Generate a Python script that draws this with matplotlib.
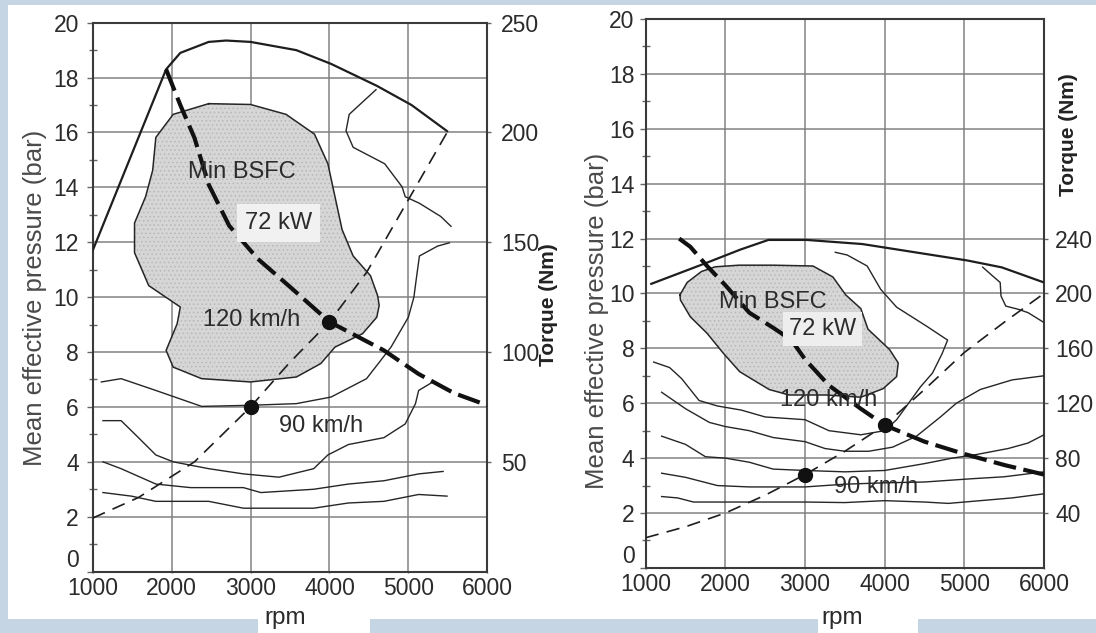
import matplotlib
matplotlib.use('Agg')
import matplotlib.pyplot as plt
from matplotlib.patches import Rectangle

plt.rcParams['font.family'] = ['Liberation Sans', 'DejaVu Sans']
plt.rcParams['hatch.linewidth'] = 0.6

# ---------------- data (rpm / mean effective pressure in bar) ----------------
rpm_ticks = [1000, 2000, 3000, 4000, 5000, 6000]
mep_ticks = [0, 2, 4, 6, 8, 10, 12, 14, 16, 18, 20]
mep_minor = [1, 3, 5, 7, 9, 11, 13, 15, 17, 19]
torque_ticks_l = [50, 100, 150, 200, 250]
torque_ticks_r = [40, 80, 120, 160, 200, 240]

# Left chart
full_l_rpm = [1000, 1930, 2110, 2470, 2690, 3000, 3580, 4020, 4600, 5040, 5490]
full_l_mep = [11.7, 18.3, 18.9, 19.3, 19.35, 19.3, 19.0, 18.5, 17.7, 17.0, 16.05]
power_l_rpm = [1930, 2110, 2290, 2470, 2730, 3090, 3490, 4000, 4690, 5130, 5580, 6000]
power_l_mep = [18.3, 17.0, 15.8, 14.1, 12.6, 11.4, 10.4, 9.1, 8.06, 7.2, 6.5, 6.06]
road_l_rpm = [1000, 1580, 2290, 3000, 3490, 4000, 4470, 5000, 5490]
road_l_mep = [1.95, 2.7, 4.0, 6.0, 7.6, 9.1, 10.9, 13.55, 16.0]
bsfc_l_rpm = [2470, 3000, 3450, 3810, 3980, 4070, 4160, 4300, 4520, 4610, 4630, 4600,
              4420, 4070, 3890, 3580, 3000, 2380, 2020, 1930, 2070, 2110, 1710, 1530,
              1530, 1670, 1760, 1800, 2020]
bsfc_l_mep = [17.05, 17.02, 16.66, 15.94, 14.86, 13.66, 12.46, 11.5, 10.78, 10.06, 9.7, 9.27,
              8.67, 8.18, 7.58, 7.09, 6.91, 7.03, 7.45, 8.06, 9.03, 9.64, 10.42, 11.62,
              12.7, 13.66, 14.62, 15.82, 16.66]
c1_l_rpm = [1110, 1360, 1800, 2380, 3000, 3580, 4020, 4470, 4780, 5000, 5070, 5100, 5140, 5370, 5520]
c1_l_mep = [6.91, 7.03, 6.6, 6.02, 6.06, 6.12, 6.36, 7.03, 8.18, 9.27, 10.0, 10.66, 11.5, 11.86, 11.98]
c2_l_rpm = [4590, 4250, 4210, 4300, 4700, 4920, 4960, 5140, 5410, 5540]
c2_l_mep = [17.56, 16.66, 16.06, 15.46, 14.86, 14.02, 13.66, 13.42, 12.94, 12.58]
c3_l_rpm = [1130, 1360, 1580, 1800, 2020, 2470, 2910, 3360, 3800, 3980, 4240, 4690, 4960, 5090, 5130, 5310]
c3_l_mep = [5.5, 5.5, 4.88, 4.25, 4.0, 3.75, 3.56, 3.44, 3.75, 4.25, 4.63, 4.88, 5.38, 6.12, 6.6, 6.91]
c4_l_rpm = [1130, 1360, 1800, 2240, 2910, 3130, 3800, 4240, 4690, 5130, 5440]
c4_l_mep = [4.0, 3.75, 3.19, 3.06, 3.06, 2.88, 3.0, 3.19, 3.31, 3.56, 3.65]
c5_l_rpm = [1130, 1490, 1800, 2470, 2910, 3800, 4240, 4690, 5130, 5490]
c5_l_mep = [2.88, 2.75, 2.56, 2.56, 2.31, 2.31, 2.5, 2.56, 2.81, 2.75]
pts_l_rpm = [3000, 4000]
pts_l_mep = [6.0, 9.1]

# Right chart
full_r_rpm = [1070, 1750, 2190, 2540, 3020, 3720, 4160, 5040, 5470, 6000]
full_r_mep = [10.35, 11.1, 11.6, 11.95, 11.95, 11.8, 11.6, 11.2, 10.95, 10.4]
power_r_rpm = [1420, 1560, 1770, 2000, 2300, 2600, 2830, 3000, 3300, 3700, 4000, 4500, 5000, 5500, 6000]
power_r_mep = [12.0, 11.7, 11.0, 10.3, 9.3, 8.75, 8.3, 7.6, 6.65, 5.8, 5.2, 4.6, 4.15, 3.75, 3.4]
road_r_rpm = [1000, 1500, 2000, 2500, 3000, 3500, 4000, 4500, 5000, 5500, 6000]
road_r_mep = [1.1, 1.5, 2.0, 2.65, 3.4, 4.25, 5.2, 6.5, 7.85, 8.95, 10.0]
bsfc_r_rpm = [1430, 1520, 1700, 1870, 2170, 2600, 3100, 3350, 3510, 3700, 3790, 4060, 4170,
              4150, 3980, 3700, 3260, 2800, 2550, 2350, 2180, 1975, 1770, 1560, 1436]
bsfc_r_mep = [9.95, 10.4, 10.8, 10.97, 11.03, 11.03, 11.0, 10.6, 9.95, 9.45, 8.7, 7.96, 7.47,
              6.97, 6.53, 6.22, 6.3, 6.3, 6.5, 6.85, 7.15, 7.82, 8.55, 9.15, 9.76]
c1_r_rpm = [1100, 1300, 1450, 1670, 1900, 2200, 2500, 3000, 3300, 3700, 4000, 4150, 4300, 4450,
            4600, 4720, 4790, 4530, 4150, 3950, 3780, 3530, 3380]
c1_r_mep = [7.5, 7.3, 6.9, 6.1, 5.9, 5.75, 5.5, 5.4, 5.0, 4.85, 5.0, 5.4, 6.0, 6.6,
            7.1, 7.8, 8.3, 8.8, 9.5, 10.15, 11.0, 11.4, 11.5]
c2_r_rpm = [1200, 1500, 1800, 2000, 2300, 2600, 3000, 3250, 3500, 3800, 4100, 4400, 4700, 4900, 5200, 5600, 6000]
c2_r_mep = [6.4, 5.8, 5.3, 5.15, 5.0, 4.75, 4.6, 4.35, 4.25, 4.25, 4.4, 4.8, 5.5, 6.0, 6.5, 6.85, 7.0]
c3_r_rpm = [1200, 1500, 1750, 2000, 2300, 2600, 3000, 3500, 4000, 4500, 4850, 5150, 5550, 5800, 6000]
c3_r_mep = [4.8, 4.5, 4.05, 4.0, 3.85, 3.6, 3.55, 3.5, 3.55, 3.8, 4.0, 4.13, 4.35, 4.55, 4.85]
c4_r_rpm = [1200, 1500, 1900, 2300, 3000, 3500, 4000, 4500, 5100, 5500, 6000]
c4_r_mep = [3.45, 3.3, 3.0, 2.95, 2.95, 3.05, 3.1, 3.13, 3.25, 3.32, 3.5]
c5_r_rpm = [1200, 1400, 1600, 2000, 2600, 3000, 3500, 4000, 4500, 4800, 5200, 5600, 6000]
c5_r_mep = [2.6, 2.55, 2.4, 2.4, 2.4, 2.4, 2.38, 2.45, 2.4, 2.35, 2.45, 2.55, 2.7]
c6_r_rpm = [5230, 5350, 5450, 5460, 5520, 5680, 5800, 6000]
c6_r_mep = [10.96, 10.65, 10.4, 9.91, 9.54, 9.42, 9.3, 8.94]
pts_r_rpm = [3000, 4000]
pts_r_mep = [3.4, 5.2]

# ---------------- figure ----------------
W, H = 1096, 633
fig = plt.figure(figsize=(W / 100, H / 100), dpi=100)
fig.patch.set_facecolor('#c6d5e4')


def px_rect(x0, y0, x1, y1):
    return Rectangle((x0 / W, 1 - y1 / H), (x1 - x0) / W, (y1 - y0) / H,
                     transform=fig.transFigure, facecolor='white',
                     edgecolor='none', zorder=-5)


fig.patches.extend([px_rect(8, 5, 1096, 619), px_rect(258, 603, 370, 633),
                    px_rect(818, 603, 918, 633)])


def px_axes(x0, y0, x1, y1):
    a = fig.add_axes([x0 / W, 1 - y1 / H, (x1 - x0) / W, (y1 - y0) / H])
    a.set_zorder(2)
    return a


TXT = '#2b2b2b'
LINE = '#262626'


def setup(ax, tq_max, tq_ticks, ypad, tpad):
    ax.set_facecolor('none')
    ax.set_xlim(1000, 6000)
    ax.set_ylim(0, 20)
    ax.set_xticks(rpm_ticks)
    ax.set_yticks(mep_ticks)
    ax.set_yticks(mep_minor, minor=True)
    ax.grid(True, which='major', color='#828282', lw=1.1)
    ax.set_axisbelow(True)
    ax.tick_params(axis='both', which='major', direction='out', length=4, width=1,
                   color='#666', labelsize=16.5, labelcolor=TXT)
    ax.tick_params(axis='x', length=1, pad=3)
    ax.tick_params(axis='y', pad=ypad)
    ax.tick_params(axis='y', which='minor', direction='inout', length=6, width=1, color='#666')
    for s in ax.spines.values():
        s.set_color('#3a3a3a')
        s.set_linewidth(1.5)
    # the "0" label sits just above the corner, clear of the "1000" label
    ax.yaxis.get_major_ticks()[0].label1.set_verticalalignment('bottom')
    ax2 = ax.twinx()
    ax2.set_zorder(1)
    ax2.set_ylim(0, tq_max)
    ax2.set_yticks(tq_ticks)
    ax2.tick_params(axis='y', length=3, width=1, color='#666', labelsize=16.5,
                    labelcolor=TXT, pad=tpad)
    for s in ax2.spines.values():
        s.set_visible(False)
    return ax2


def draw(ax, full, power, road, bsfc, contours, pts):
    ax.fill(bsfc[0], bsfc[1], facecolor='#d6d6d6', edgecolor='#b8b8b8',
            hatch='....', lw=0, zorder=2)
    ax.plot(bsfc[0] + bsfc[0][:1], bsfc[1] + bsfc[1][:1], color=LINE, lw=1.1,
            zorder=3, solid_joinstyle='round')
    for cx, cy in contours:
        ax.plot(cx, cy, color=LINE, lw=1.0, zorder=3, solid_joinstyle='round')
    ax.plot(full[0], full[1], color='#1e1e1e', lw=1.6, zorder=4, solid_joinstyle='round')
    ax.plot(road[0], road[1], color='#1e1e1e', lw=1.2, ls=(0, (8, 5)), zorder=4)
    ax.plot(power[0], power[1], color='#111', lw=3.0, ls=(0, (5.5, 1.8)), zorder=5)
    ax.plot(pts[0], pts[1], 'o', ms=10, color='#111', zorder=6)


# Left chart
axL = px_axes(92.7, 22.7, 487.3, 571.6)
setup(axL, 250, torque_ticks_l, 6, 7)
draw(axL, (full_l_rpm, full_l_mep), (power_l_rpm, power_l_mep),
     (road_l_rpm, road_l_mep), (bsfc_l_rpm, bsfc_l_mep),
     [(c1_l_rpm, c1_l_mep), (c2_l_rpm, c2_l_mep), (c3_l_rpm, c3_l_mep),
      (c4_l_rpm, c4_l_mep), (c5_l_rpm, c5_l_mep)],
     (pts_l_rpm, pts_l_mep))
axL.text(2890, 14.57, 'Min BSFC', ha='center', va='center', fontsize=17, color=TXT, zorder=7)
axL.text(3356, 12.7, '72 kW', ha='center', va='center', fontsize=17, color=TXT, zorder=7,
         bbox=dict(boxstyle='square,pad=0.35', facecolor='#f1f1f1', edgecolor='none'))
axL.text(3020, 9.15, '120 km/h', ha='center', va='center', fontsize=17, color=TXT, zorder=7)
axL.text(3890, 5.31, '90 km/h', ha='center', va='center', fontsize=17, color=TXT, zorder=7)

# Right chart
axR = px_axes(645.7, 19, 1044, 567.9)
setup(axR, 400, torque_ticks_r, 4, 5)
draw(axR, (full_r_rpm, full_r_mep), (power_r_rpm, power_r_mep),
     (road_r_rpm, road_r_mep), (bsfc_r_rpm, bsfc_r_mep),
     [(c1_r_rpm, c1_r_mep), (c2_r_rpm, c2_r_mep), (c3_r_rpm, c3_r_mep),
      (c4_r_rpm, c4_r_mep), (c5_r_rpm, c5_r_mep), (c6_r_rpm, c6_r_mep)],
     (pts_r_rpm, pts_r_mep))
axR.text(2600, 9.7, 'Min BSFC', ha='center', va='center', fontsize=17, color=TXT, zorder=7)
axR.text(3220, 8.7, '72 kW', ha='center', va='center', fontsize=17, color=TXT, zorder=7,
         bbox=dict(boxstyle='square,pad=0.25', facecolor='#eeeeee', edgecolor='none'))
axR.text(3300, 6.1, '120 km/h', ha='center', va='center', fontsize=17, color=TXT, zorder=7)
axR.text(3890, 2.95, '90 km/h', ha='center', va='center', fontsize=17, color=TXT, zorder=7)

# Axis titles
lab = dict(fontsize=18.5, color='#4a4a4a', rotation=90, ha='center', va='center')
fig.text(35 / W, 1 - 298 / H, 'Mean effective pressure (bar)', **lab)
fig.text(597 / W, 1 - 321 / H, 'Mean effective pressure (bar)', **lab)
tq = dict(fontsize=15, color='#222', rotation=90, ha='center', va='center', fontweight='bold')
fig.text(549 / W, 1 - 305 / H, 'Torque (Nm)', **tq)
fig.text(1068 / W, 1 - 135 / H, 'Torque (Nm)', **tq)
rp = dict(fontsize=17.5, color='#2b2b2b', ha='center', va='center')
fig.text(285 / W, 1 - 618 / H, 'rpm', **rp)
fig.text(842 / W, 1 - 618 / H, 'rpm', **rp)

fig.savefig('out.png', dpi=100, facecolor=fig.get_facecolor())
